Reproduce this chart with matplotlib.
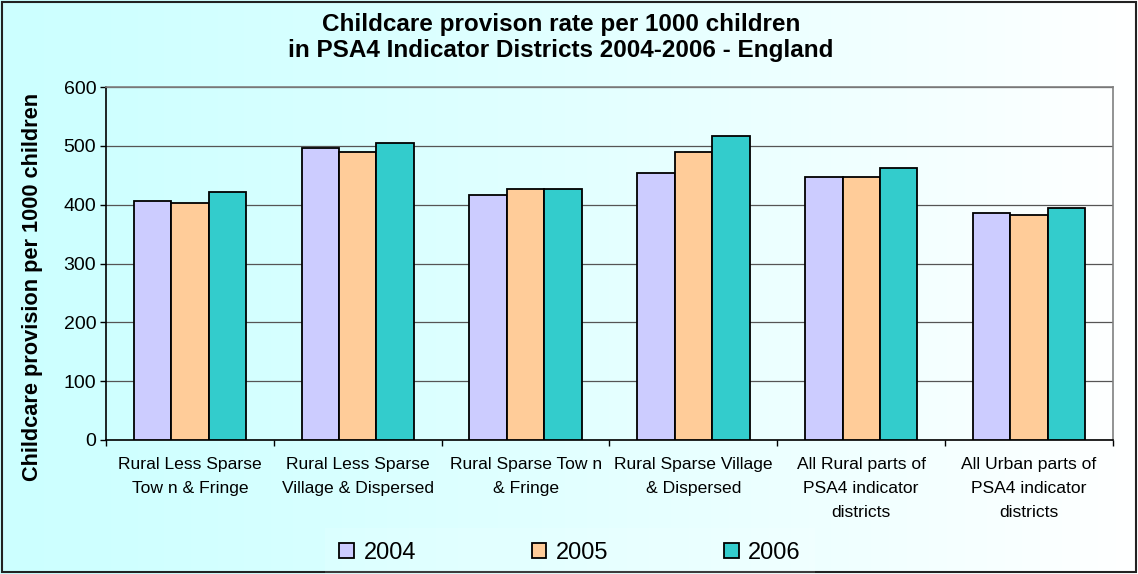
import matplotlib.pyplot as plt
import numpy as np
from matplotlib.patches import Rectangle

plt.rcParams['font.family'] = ['Liberation Sans', 'DejaVu Sans']

categories = ['Rural Less Sparse\nTow n & Fringe',
              'Rural Less Sparse\nVillage & Dispersed',
              'Rural Sparse Tow n\n& Fringe',
              'Rural Sparse Village\n& Dispersed',
              'All Rural parts of\nPSA4 indicator\ndistricts',
              'All Urban parts of\nPSA4 indicator\ndistricts']
years = ['2004', '2005', '2006']
rate_2004 = [407, 496, 416, 453, 447, 385]
rate_2005 = [402, 489, 427, 489, 447, 383]
rate_2006 = [422, 505, 427, 517, 463, 394]
colours = ['#CCCCFF', '#FFCC99', '#33CCCC']

W, H = 1138, 574
fig = plt.figure(figsize=(W / 100, H / 100), dpi=100)

# background: pale cyan fading to white
bg = fig.add_axes([0, 0, 1, 1], zorder=-10)
grad = np.linspace(0, 1, 256)
img = np.zeros((1, 256, 3))
img[0, :, 0] = 0.80 + 0.20 * grad ** 1.2
img[0, :, 1] = 1.0
img[0, :, 2] = 1.0
bg.imshow(img, aspect='auto', extent=[0, 1, 0, 1])
bg.set_axis_off()

# outer frame
fig.patches.append(Rectangle((2 / W, 2 / H), 1 - 4 / W, 1 - 4 / H, transform=fig.transFigure,
                             fill=False, edgecolor='#222222', linewidth=1.5))

ax = fig.add_axes([106 / W, (H - 440) / H, 1007 / W, 353 / H])
ax.patch.set_alpha(0)

x = np.arange(len(categories))
bw = 0.223
for j, (vals, c, lab) in enumerate(zip([rate_2004, rate_2005, rate_2006], colours, years)):
    ax.bar(x + (j - 1) * bw, vals, width=bw, color=c, edgecolor='black', linewidth=1.3,
           label=lab, zorder=3)

ax.set_xlim(-0.5, len(categories) - 0.5)
ax.set_ylim(0, 600)
ax.set_yticks(range(0, 601, 100))
ax.yaxis.grid(True, color='#555555', linewidth=0.9, zorder=0)
ax.set_axisbelow(True)

ax.set_xticks(np.arange(len(categories) + 1) - 0.5)
ax.set_xticklabels([])
ax.set_xticks(x, minor=True)
ax.set_xticklabels(categories, minor=True, fontsize=12.6, linespacing=1.75, va='top')
ax.tick_params(axis='x', which='major', direction='out', length=4, width=1, color='black')
ax.tick_params(axis='x', which='minor', length=0, pad=12)
ax.tick_params(axis='y', direction='out', length=4, width=1, labelsize=14, pad=3)

for s in ['left', 'bottom']:
    ax.spines[s].set_color('black')
    ax.spines[s].set_linewidth(1.2)
for s in ['top', 'right']:
    ax.spines[s].set_color('#808080')
    ax.spines[s].set_linewidth(1.2)

fig.text(561 / W, 1 - 25 / H, 'Childcare provison rate per 1000 children',
         ha='center', va='center', fontsize=17.5, fontweight='bold')
fig.text(561 / W, 1 - 51 / H, 'in PSA4 Indicator Districts 2004-2006 - England',
         ha='center', va='center', fontsize=17.5, fontweight='bold')
fig.text(33 / W, 1 - 287 / H, 'Childcare provision per 1000 children', rotation=90,
         ha='center', va='center', fontsize=15.7, fontweight='bold')

leg = fig.legend(loc='center', bbox_to_anchor=(570 / W, 21 / H), ncol=3, fontsize=17,
                 handlelength=0.62, handleheight=0.62, handletextpad=0.4,
                 columnspacing=4.9, frameon=True, fancybox=False, borderpad=0.6)
leg.get_frame().set_facecolor('white')
leg.get_frame().set_alpha(0.12)
leg.get_frame().set_edgecolor('none')

fig.savefig('out.png', dpi=100)
